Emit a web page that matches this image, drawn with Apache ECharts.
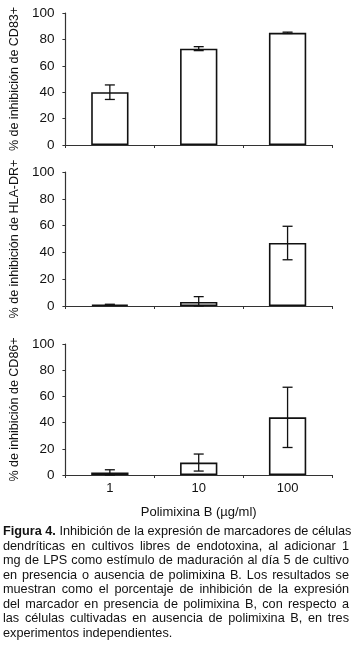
<!DOCTYPE html>
<html>
<head>
<meta charset="utf-8">
<script src="https://cdn.jsdelivr.net/npm/echarts/dist/echarts.min.js"></script>
<style>
  html, body { margin: 0; padding: 0; background: #fff; }
  #chart { position: absolute; left: 0; top: 0; width: 360px; height: 657px; }
  #caption {
    position: absolute; left: 3px; top: 524px; width: 346px;
    font-family: "Liberation Sans", Arial, sans-serif; font-size: 12.7px;
    line-height: 14.5px; color: #111;
  }
  #caption span { display: block; text-align: justify; text-align-last: justify; white-space: nowrap; }
  #caption span.last { text-align-last: left; }
</style>
</head>
<body>
<div id="chart"></div>
<div id="caption">
  <span><b>Figura 4.</b> Inhibición de la expresión de marcadores de células</span>
  <span>dendríticas en cultivos libres de endotoxina, al adicionar 1</span>
  <span>mg de LPS como estímulo de maduración al día 5 de cultivo</span>
  <span>en presencia o ausencia de polimixina B. Los resultados se</span>
  <span>muestran como el porcentaje de inhibición de la expresión</span>
  <span>del marcador en presencia de polimixina B, con respecto a</span>
  <span>las células cultivadas en ausencia de polimixina B, en tres</span>
  <span class="last">experimentos independientes.</span>
</div>
<script>
// doses of polimixina B (µg/ml)
const doses = ['1', '10', '100'];

// % inhibition, mean and error
const cd83 = [40, 73, 85];
const cd83Err = [5.5, 1.5, 0.5];
const hlaDr = [1, 3, 47];
const hlaDrErr = [0.3, 4, 12.5];
const cd86 = [2, 9.5, 44];
const cd86Err = [2, 6.5, 23];

const yNames = ['% de inhibición de CD83+', '% de inhibición de HLA-DR+', '% de inhibición de CD86+'];
const xName = 'Polimixina B (µg/ml)';

const means = [cd83, hlaDr, cd86];
const errs = [cd83Err, hlaDrErr, cd86Err];

const font = '"Liberation Sans", Arial, sans-serif';
const axisColor = '#333';
const gridTops = [13, 172, 344];
const gridHeights = [132, 134, 131];

const chart = echarts.init(document.getElementById('chart'));

function errorBar(params, api) {
  const x = api.value(0);
  const y = api.value(1);
  const e = api.value(2);
  const top = api.coord([x, y + e]);
  const bot = api.coord([x, Math.max(0, y - e)]);
  const half = 5;
  const style = { stroke: '#111', lineWidth: 1.3 };
  return {
    type: 'group',
    children: [
      { type: 'line', shape: { x1: top[0], y1: top[1], x2: bot[0], y2: bot[1] }, style },
      { type: 'line', shape: { x1: top[0] - half, y1: top[1], x2: top[0] + half, y2: top[1] }, style },
      { type: 'line', shape: { x1: bot[0] - half, y1: bot[1], x2: bot[0] + half, y2: bot[1] }, style }
    ]
  };
}

const grid = [], xAxis = [], yAxis = [], series = [];
for (let i = 0; i < 3; i++) {
  const isLast = i === 2;
  grid.push({ left: 63, right: 28, top: gridTops[i], height: gridHeights[i] });
  xAxis.push({
    type: 'category', gridIndex: i, data: doses,
    axisLine: { lineStyle: { color: axisColor, width: 1.2 } },
    axisTick: { show: true, length: 3, lineStyle: { color: axisColor } },
    axisLabel: { show: isLast, color: '#111', fontSize: 13, fontFamily: font, margin: 7 },
    name: isLast ? xName : '',
    nameLocation: 'middle', nameGap: 31,
    nameTextStyle: { color: '#111', fontSize: 13, fontFamily: font }
  });
  yAxis.push({
    type: 'value', gridIndex: i, min: 0, max: 100, interval: 20,
    axisLine: { show: true, lineStyle: { color: axisColor, width: 1.2 } },
    axisTick: { show: true, length: 3, lineStyle: { color: axisColor } },
    splitLine: { show: false },
    axisLabel: { color: '#111', fontSize: 13.5, fontFamily: font, margin: 11 },
    name: yNames[i], nameLocation: 'middle', nameGap: 44,
    nameTextStyle: { color: '#111', fontSize: 12.5, fontFamily: font }
  });
  series.push({
    type: 'bar', xAxisIndex: i, yAxisIndex: i,
    data: means[i], barWidth: '42%',
    itemStyle: { color: '#fff', borderColor: '#111', borderWidth: 1.6 }
  });
  series.push({
    type: 'custom', xAxisIndex: i, yAxisIndex: i,
    renderItem: errorBar,
    data: means[i].map((v, k) => [k, v, errs[i][k]]),
    z: 5
  });
}

chart.setOption({
  animation: false,
  backgroundColor: '#fff',
  grid, xAxis, yAxis, series
});
</script>
</body>
</html>
